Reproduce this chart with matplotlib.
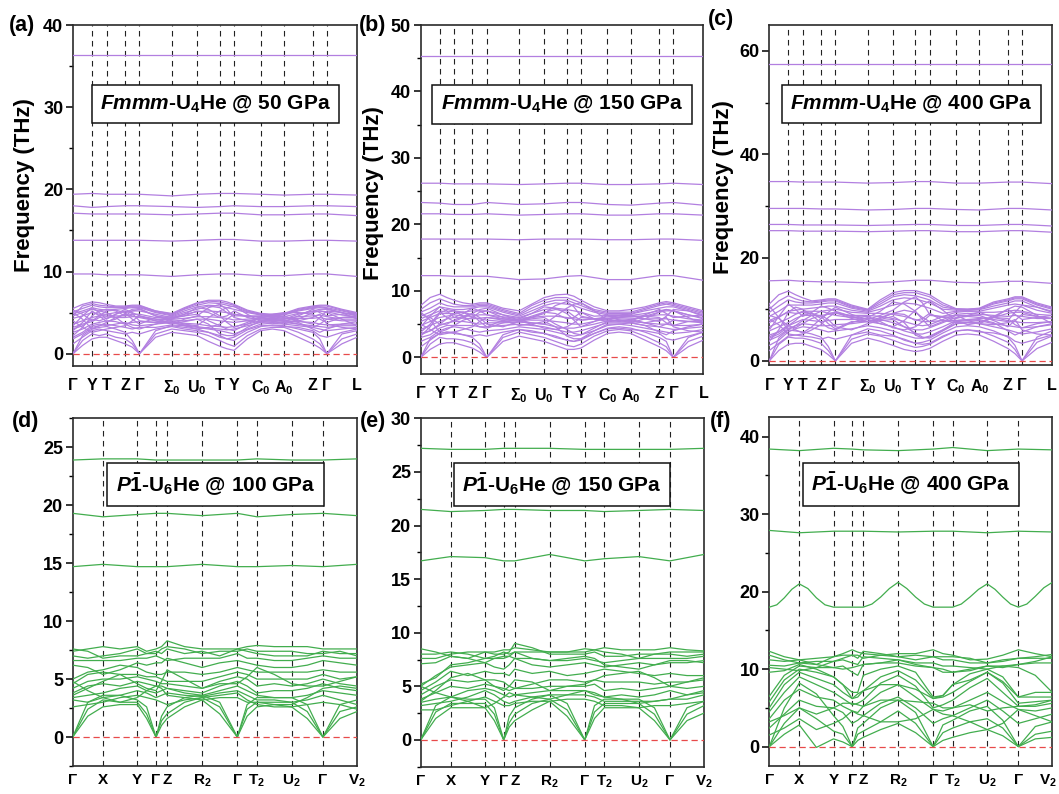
import numpy as np
import matplotlib
matplotlib.use('Agg')
import matplotlib.pyplot as plt
import matplotlib.transforms as mtransforms
from matplotlib.ticker import MultipleLocator

plt.rcParams['font.family'] = ['Liberation Sans', 'DejaVu Sans']
plt.rcParams['font.weight'] = 'bold'
plt.rcParams['mathtext.fontset'] = 'custom'
plt.rcParams['mathtext.rm'] = 'Liberation Sans:bold'
plt.rcParams['mathtext.it'] = 'Liberation Sans:italic:bold'
plt.rcParams['mathtext.bf'] = 'Liberation Sans:bold'

# high-symmetry points (path fraction) and labels
kpath_top = [0, 0.067, 0.118, 0.183, 0.234, 0.348, 0.437, 0.517, 0.567, 0.661, 0.743, 0.844, 0.894, 1.0]
labels_top = ['Γ', 'Y', 'T', 'Z', 'Γ', 'Σ$_0$', 'U$_0$', 'T', 'Y', 'C$_0$', 'A$_0$', 'Z', 'Γ', 'L']
kpath_bot = [0, 0.106, 0.227, 0.293, 0.332, 0.455, 0.579, 0.648, 0.770, 0.880, 1.0]
labels_bot = ['Γ', 'X', 'Y', 'Γ', 'Z', 'R$_2$', 'Γ', 'T$_2$', 'U$_2$', 'Γ', 'V$_2$']

# low bands: values at high-symmetry points and segment midpoints (THz)
a_low = [
    "0 1.0 1.8 2.0 2.0 1.6 1.2 0.8 0 2.0 2.6 2.4 2.2 1.5 0.9 0.6 0.4 1.8 2.8 3.0 2.8 2.0 1.2 0.7 0 1.2 2.0",
    "0 1.6 2.4 2.2 2.4 2.0 1.8 1.2 0 2.4 3.0 2.8 2.6 2.2 1.6 1.2 0.9 2.2 3.0 3.2 3.2 2.6 1.8 1.2 0 1.8 2.4",
    "0 2.2 3.0 3.2 3.3 3.0 2.6 1.6 0 2.8 3.4 3.2 3.0 2.6 2.2 1.8 1.6 2.6 3.3 3.5 3.4 3.0 2.6 1.8 0 2.4 2.8",
    "1.8 2.4 3.2 3.4 3.6 3.4 3.2 3.0 3.2 3.2 3.5 3.4 3.2 3.0 2.8 2.6 2.4 3.0 3.6 3.7 3.6 3.4 3.2 3.0 2.8 3.0 3.2",
    "2.0 2.6 3.4 3.6 3.4 3.6 3.8 3.5 3.4 3.6 3.8 3.5 3.3 3.1 3.0 2.9 3.0 3.4 3.8 3.9 3.8 3.6 3.4 3.3 3.2 3.4 3.4",
    "2.6 3.0 3.6 3.8 4.0 3.9 3.6 3.8 3.9 3.8 3.9 3.7 3.6 3.4 3.3 3.2 3.3 3.6 4.0 4.1 4.0 3.9 3.8 3.6 3.5 3.6 3.6",
    "5.0 4.2 3.0 3.4 3.8 4.4 4.8 4.6 4.4 4.0 3.8 3.4 3.0 3.2 3.6 4.2 4.8 4.6 4.4 4.2 4.0 3.6 3.2 3.6 4.2 4.4 4.6",
    "3.2 3.6 3.9 4.4 4.5 4.4 4.4 4.5 4.5 4.2 4.1 4.0 4.2 4.2 4.0 3.9 3.8 4.0 4.2 4.3 4.2 4.3 4.3 4.4 4.2 4.0 4.0",
    "3.6 4.0 4.4 4.6 4.7 4.6 4.6 4.8 4.8 4.4 4.2 4.3 4.5 4.5 4.4 4.3 4.1 4.2 4.3 4.4 4.3 4.5 4.6 4.7 4.5 4.2 4.2",
    "2.2 3.2 4.6 5.2 5.0 4.4 3.6 3.2 3.0 3.6 4.2 4.8 5.6 5.4 4.6 3.8 3.2 3.8 4.5 4.0 3.6 4.2 5.0 5.2 5.0 4.2 3.4",
    "4.3 4.6 5.0 4.8 4.8 5.0 5.1 5.2 5.2 4.8 4.4 4.8 5.1 5.2 5.1 5.0 4.8 4.5 4.5 4.5 4.5 4.9 5.1 5.2 5.1 4.7 4.5",
    "3.4 4.6 5.6 5.0 4.2 4.8 5.4 5.0 4.6 4.0 3.6 4.2 4.6 5.6 6.0 5.4 4.4 4.0 3.8 4.2 4.6 4.0 3.6 4.4 5.2 5.0 4.2",
    "4.9 5.2 5.6 5.4 5.3 5.4 5.5 5.6 5.6 5.0 4.6 5.2 5.7 5.9 5.8 5.6 5.4 5.0 4.7 4.6 4.7 5.2 5.5 5.6 5.5 5.0 4.7",
    "5.1 5.5 5.9 5.7 5.6 5.6 5.6 5.7 5.7 5.1 4.7 5.4 5.9 6.2 6.1 5.9 5.7 5.1 4.8 4.7 4.8 5.3 5.6 5.7 5.6 5.2 4.8",
    "4.6 5.8 6.1 5.9 5.8 5.7 5.7 5.8 5.8 5.2 4.8 5.5 6.1 6.4 6.3 6.1 5.9 5.2 4.8 4.7 4.8 5.4 5.7 5.8 5.8 5.3 4.9",
    "5.5 6.0 6.3 6.2 6.0 5.8 5.8 5.9 5.9 5.2 4.9 5.6 6.2 6.5 6.5 6.3 6.0 5.3 4.9 4.8 4.9 5.5 5.8 5.9 5.9 5.4 5.0",
    "2.8 3.8 5.2 4.6 3.9 4.2 4.9 5.4 5.5 4.6 4.0 3.6 3.4 4.4 5.2 5.6 5.8 4.8 3.9 3.8 3.9 4.6 5.4 5.0 4.6 4.8 5.0",
    "4.0 3.2 2.6 2.8 3.0 3.2 3.4 4.0 4.6 4.2 3.7 3.9 4.2 3.6 2.4 2.2 2.2 3.2 4.0 4.0 4.1 3.8 3.0 2.6 3.0 3.6 3.9",
    "3.0 3.4 4.2 4.0 4.3 4.8 5.2 4.9 4.0 3.8 4.4 4.6 4.8 4.0 3.4 3.0 2.8 3.6 4.4 4.6 4.4 4.0 4.4 4.8 3.6 3.2 3.0",
    "5.3 4.8 4.0 4.6 5.2 5.3 5.0 4.2 3.6 4.4 4.5 5.0 5.4 5.8 5.6 5.0 4.6 4.6 4.6 4.8 5.0 5.0 4.8 4.2 3.8 4.4 4.4",
    "1.2 2.0 2.8 3.0 2.8 2.6 2.4 2.6 2.4 3.0 3.3 3.0 2.8 2.6 2.0 1.8 2.0 2.9 3.4 3.4 3.3 3.2 2.8 2.2 2.0 2.6 3.0",
    "4.6 5.0 5.4 5.2 5.4 5.2 4.6 5.2 5.4 4.6 4.3 4.6 5.2 5.0 4.4 4.6 5.2 4.4 4.1 4.2 4.2 4.8 5.2 5.4 5.4 5.0 4.6",
]
b_low = [
    "0 1.2 2.0 2.2 2.2 1.8 1.4 0.8 0 2.4 3.2 2.8 2.4 1.8 1.2 1.2 1.4 2.6 3.6 3.8 3.6 2.6 1.6 1.0 0 1.6 2.6",
    "0 2.0 3.0 2.8 2.8 2.6 2.2 1.4 0 3.0 3.8 3.4 3.0 2.4 1.8 1.6 2.0 3.2 4.0 4.2 4.0 3.2 2.2 1.6 0 2.4 3.2",
    "0 2.8 3.6 3.8 3.8 3.4 3.0 2.0 0 3.4 4.2 4.0 3.6 3.0 2.6 2.4 2.8 3.6 4.4 4.6 4.4 3.8 3.0 2.4 0 3.0 3.8",
    "2.4 3.0 4.0 4.4 4.6 4.4 4.0 3.8 4.0 4.2 4.6 4.4 4.2 3.8 3.4 3.2 3.4 4.0 4.8 5.0 4.8 4.4 4.0 3.8 3.6 3.8 4.2",
    "3.0 3.4 4.4 4.8 4.8 4.8 4.8 4.6 4.6 4.8 5.0 4.8 4.6 4.2 3.8 3.8 4.0 4.6 5.2 5.2 5.2 4.8 4.6 4.4 4.2 4.4 4.6",
    "3.6 4.0 4.8 5.2 5.4 5.4 5.2 5.0 5.2 5.2 5.3 5.2 5.0 4.6 4.4 4.4 4.6 5.0 5.5 5.6 5.5 5.2 5.0 5.0 4.8 4.8 5.0",
    "6.8 5.6 3.8 4.2 4.8 5.6 6.0 5.8 5.6 5.4 5.5 5.0 4.4 4.2 4.6 5.2 6.0 5.8 5.8 5.8 5.7 5.2 4.6 5.0 5.6 5.4 5.2",
    "4.2 4.8 5.4 5.8 6.0 5.9 5.8 5.9 6.0 5.8 5.7 5.6 5.6 5.4 5.2 5.0 5.0 5.4 5.9 6.0 5.9 5.8 5.8 5.8 5.6 5.4 5.4",
    "4.8 5.4 6.0 6.2 6.4 6.2 6.2 6.4 6.4 6.1 5.9 6.0 6.2 6.2 6.0 5.8 5.6 5.8 6.1 6.2 6.1 6.2 6.4 6.4 6.2 5.8 5.6",
    "3.2 4.6 6.6 7.2 7.0 6.2 5.2 4.6 4.4 5.2 5.8 6.6 7.6 7.4 6.6 5.6 4.6 5.4 6.3 5.6 5.2 5.8 6.8 7.2 7.0 6.0 5.0",
    "5.4 6.0 6.6 6.6 6.6 6.8 7.0 7.0 7.0 6.4 6.0 6.6 7.2 7.4 7.2 7.0 6.8 6.2 6.3 6.3 6.3 6.6 7.0 7.2 7.0 6.4 5.8",
    "4.6 6.2 7.6 7.0 6.0 6.6 7.4 7.0 6.4 5.8 5.4 6.0 6.6 7.8 8.4 7.6 6.2 5.8 5.6 6.0 6.4 5.8 5.4 6.2 7.2 7.0 6.2",
    "6.2 6.8 7.6 7.4 7.2 7.2 7.4 7.6 7.6 6.8 6.2 7.0 7.8 8.2 8.0 7.8 7.4 6.8 6.4 6.4 6.5 7.0 7.4 7.6 7.6 7.0 6.4",
    "6.8 7.4 8.2 7.8 7.6 7.6 7.6 7.8 7.8 7.0 6.4 7.4 8.2 8.6 8.6 8.2 7.8 7.0 6.6 6.6 6.6 7.2 7.8 8.0 7.8 7.2 6.6",
    "7.2 8.2 8.8 8.4 8.0 7.8 7.8 8.0 8.0 7.2 6.6 7.8 8.6 9.0 9.0 8.6 8.2 7.2 6.8 6.8 6.8 7.4 8.0 8.2 8.0 7.4 6.8",
    "7.8 9.0 9.5 9.0 8.6 8.2 8.0 8.2 8.2 7.4 7.0 8.0 9.0 9.4 9.5 9.2 8.6 7.6 7.0 7.0 7.2 7.6 8.2 8.4 8.2 7.6 7.0",
    "3.8 5.0 6.8 6.0 5.4 6.0 6.6 7.2 7.4 6.4 5.6 5.2 5.0 6.2 7.4 8.0 8.2 7.0 5.6 5.4 5.6 6.4 7.2 6.6 6.0 6.2 6.4",
    "5.0 4.2 3.4 3.6 3.8 4.2 4.6 5.4 6.0 5.6 4.8 5.0 5.4 4.6 3.2 2.8 2.8 4.0 5.0 5.0 5.2 4.8 3.8 3.4 4.0 4.6 5.0",
    "3.4 4.0 5.0 5.0 5.6 6.2 6.6 6.0 5.0 4.6 5.4 5.8 6.0 5.0 4.2 3.6 3.4 4.4 5.4 5.6 5.4 5.2 5.6 6.0 4.6 4.0 3.8",
    "6.4 6.0 5.0 5.8 6.6 6.8 6.4 5.4 4.6 5.6 5.6 6.2 6.8 7.2 7.0 6.2 5.6 5.8 5.8 6.0 6.2 6.2 6.0 5.2 4.8 5.4 5.6",
    "1.6 2.6 3.6 3.8 3.6 3.4 3.2 3.4 3.2 3.8 4.2 3.8 3.6 3.2 2.6 2.4 2.6 3.6 4.3 4.4 4.2 4.0 3.6 2.8 2.6 3.2 3.8",
    "5.8 6.4 7.0 6.8 7.0 6.8 6.0 6.8 7.0 6.0 5.6 6.0 6.8 6.6 5.8 6.0 6.8 5.8 5.4 5.5 5.5 6.2 6.8 7.0 7.0 6.4 6.0",
]
c_low = [
    "0 2.0 3.2 3.4 3.4 2.8 2.2 1.2 0 3.4 4.4 3.8 3.0 2.2 1.8 2.0 2.4 3.8 5.0 5.2 5.0 3.8 2.4 1.4 0 2.4 3.6",
    "0 3.2 4.6 4.4 4.4 4.0 3.4 2.0 0 4.2 5.2 4.8 4.0 3.2 2.6 2.8 3.2 4.6 5.8 6.0 5.8 4.8 3.6 2.2 0 3.6 4.8",
    "0 4.4 6.0 5.8 5.6 5.2 4.6 2.8 0 5.0 6.2 5.8 5.0 4.0 3.4 3.6 4.0 5.4 6.6 6.8 6.6 5.8 4.6 3.0 0 4.6 5.8",
    "3.0 4.0 5.6 6.2 6.6 6.4 6.0 5.6 5.8 6.2 6.8 6.4 5.8 5.0 4.4 4.4 4.8 6.0 7.2 7.4 7.2 6.6 6.0 5.6 5.2 5.6 6.2",
    "4.0 4.8 6.2 6.8 7.2 7.0 6.8 6.8 7.0 7.2 7.6 7.2 6.6 5.8 5.2 5.2 5.6 6.6 7.8 8.0 7.8 7.2 6.8 6.6 6.4 6.6 7.0",
    "5.0 5.6 6.8 7.4 8.0 7.8 7.6 7.8 8.0 8.0 8.2 8.0 7.4 6.6 6.0 6.0 6.4 7.4 8.4 8.6 8.4 8.0 7.6 7.6 7.4 7.4 7.6",
    "10.6 8.4 6.0 6.8 7.8 8.8 9.6 9.2 8.8 8.4 8.6 7.6 6.4 6.0 6.6 7.6 8.8 8.6 8.8 8.8 8.8 7.8 6.6 7.8 9.0 8.6 8.2",
    "5.8 6.6 7.4 8.2 8.8 8.8 8.8 9.0 9.2 8.8 8.8 8.6 8.2 7.6 7.0 6.8 7.0 8.0 9.0 9.2 9.0 8.8 8.6 8.8 8.6 8.2 8.2",
    "6.6 7.4 8.2 9.0 9.6 9.6 9.6 9.8 10.0 9.4 9.2 9.2 9.0 8.6 8.0 7.6 7.6 8.6 9.4 9.6 9.4 9.4 9.6 9.8 9.6 9.0 8.8",
    "3.8 6.0 9.4 10.4 10.0 8.8 7.4 6.4 6.0 7.4 8.4 9.6 11.4 11.0 9.6 8.0 6.6 7.6 8.8 7.8 7.2 8.4 10.0 10.6 10.4 8.8 7.2",
    "7.4 8.4 9.6 9.8 10.0 10.2 10.4 10.6 10.6 9.8 9.4 10.0 10.8 11.2 11.0 10.6 10.2 9.2 9.6 9.7 9.6 10.2 10.8 11.0 10.8 9.8 9.2",
    "6.0 8.6 11.0 10.0 8.6 9.4 10.6 10.2 9.6 8.6 8.0 8.8 9.8 11.4 12.4 11.2 9.0 8.4 8.2 8.8 9.4 8.4 7.8 9.4 10.8 10.4 9.4",
    "8.6 9.6 10.8 10.8 10.8 10.8 11.0 11.2 11.2 10.2 9.6 10.6 11.8 12.2 12.0 11.6 11.2 10.0 9.8 9.8 9.9 10.6 11.2 11.6 11.6 10.4 9.6",
    "9.4 10.6 11.8 11.4 11.2 11.2 11.4 11.6 11.6 10.4 9.8 11.0 12.4 12.8 12.6 12.2 11.8 10.4 10.0 9.9 10.0 11.0 11.6 12.0 12.0 10.8 10.0",
    "10.0 11.6 12.6 12.0 11.6 11.4 11.6 11.8 11.8 10.6 9.9 11.4 12.8 13.2 13.2 12.8 12.4 10.8 10.0 10.0 10.1 11.2 11.8 12.2 12.2 11.0 10.2",
    "11.0 12.8 13.5 12.8 12.2 11.6 11.8 12.0 12.0 10.8 10.0 11.8 13.2 13.6 13.6 13.2 12.8 11.2 10.1 10.0 10.2 11.4 12.0 12.4 12.4 11.2 10.4",
    "4.6 5.6 7.0 6.0 5.4 6.6 8.2 9.4 10.4 9.0 8.0 7.2 6.6 7.8 9.8 10.8 11.6 9.8 7.8 7.0 7.4 8.6 10.0 9.0 8.0 8.4 8.8",
    "8.0 7.0 5.2 5.0 5.2 6.0 7.0 8.4 9.4 8.6 7.6 8.0 8.6 7.4 5.0 4.4 4.6 6.0 7.6 7.8 8.0 7.4 5.8 5.0 5.6 6.6 7.2",
    "4.4 5.2 6.6 6.4 7.2 8.2 8.8 8.0 6.6 6.0 7.2 7.8 8.0 6.6 5.4 4.6 4.4 5.8 7.2 7.4 7.2 7.0 7.4 8.0 6.0 5.2 5.0",
    "8.8 8.2 6.8 7.8 9.0 9.2 8.6 7.2 6.2 7.6 7.6 8.4 9.2 9.8 9.4 8.4 7.6 7.8 7.8 8.0 8.2 8.4 8.2 7.0 6.4 7.2 7.6",
    "2.0 3.4 4.8 5.0 4.8 4.6 4.2 4.6 4.2 5.0 5.6 5.0 4.8 4.2 3.4 3.2 3.4 4.8 5.8 6.0 5.6 5.4 4.8 3.8 3.4 4.2 5.0",
    "7.8 8.6 9.4 9.2 9.4 9.2 8.2 9.2 9.4 8.2 7.6 8.2 9.2 9.0 7.8 8.2 9.2 7.8 7.4 7.5 7.5 8.4 9.2 9.4 9.4 8.6 8.2",
]
d_low = [
    "0 1.8 2.6 2.8 2.8 1.6 0 1.0 1.6 2.6 3.2 2.0 0 1.8 2.6 2.8 2.6 1.6 0 1.6 2.2",
    "0 2.4 3.2 3.0 3.0 2.0 0 1.4 2.0 3.0 3.4 2.6 0 2.4 3.0 3.0 3.0 2.2 0 2.2 2.6",
    "0 3.0 3.6 3.6 3.2 2.6 0 1.8 2.6 3.4 3.6 3.0 0 2.8 3.4 3.4 3.4 2.8 0 2.8 3.2",
    "2.6 2.8 3.0 3.4 3.6 3.4 3.2 3.0 2.8 3.2 3.4 3.6 3.8 3.2 2.8 2.6 2.6 2.8 3.0 2.8 2.4",
    "3.2 3.0 3.4 3.6 4.0 3.8 3.4 3.6 3.8 3.6 3.5 3.8 4.0 3.6 3.2 3.2 3.0 3.2 3.6 3.2 2.8",
    "3.4 3.6 3.8 4.2 4.4 4.0 3.8 4.0 4.2 3.8 3.6 4.0 4.4 4.0 3.6 3.4 3.4 3.6 4.0 3.8 3.6",
    "3.8 4.4 4.6 4.4 4.8 4.6 4.4 4.4 4.2 4.0 3.8 4.4 4.8 4.4 3.8 4.0 4.0 4.2 4.6 4.2 4.0",
    "4.2 4.8 5.0 5.0 5.2 5.0 4.8 4.6 4.6 4.4 4.2 4.8 5.2 5.0 4.4 4.6 4.4 4.6 5.0 4.6 4.4",
    "4.6 5.4 5.6 5.4 5.4 5.2 5.2 5.0 4.8 4.8 4.8 5.2 5.6 5.4 5.0 5.0 5.0 5.0 5.4 5.0 5.2",
    "5.0 5.6 5.8 6.2 6.0 5.6 5.4 5.4 5.6 5.6 5.4 5.6 6.0 5.8 5.6 5.6 5.6 5.6 5.8 5.6 5.6",
    "6.2 6.0 5.4 5.8 6.4 6.2 6.4 6.4 6.8 6.4 6.0 6.4 6.6 6.4 6.2 6.0 6.0 6.2 6.6 6.4 6.2",
    "6.6 6.6 6.6 6.6 6.8 6.8 7.0 6.8 6.6 6.8 6.8 6.8 7.2 6.8 6.8 6.6 6.6 6.8 7.0 6.8 6.8",
    "7.0 6.8 7.0 7.2 7.6 7.2 7.4 7.2 7.6 7.2 7.4 7.0 7.6 7.4 7.2 7.0 7.0 7.0 7.4 7.2 7.2",
    "7.4 7.6 7.8 7.6 7.8 7.4 7.6 7.8 8.3 7.8 7.6 7.6 7.6 7.8 7.9 7.8 7.8 7.8 7.6 7.6 7.6",
    "7.6 7.4 6.8 7.0 7.0 7.2 7.2 7.6 7.8 7.6 7.2 7.4 7.4 7.6 7.4 7.4 7.4 7.2 7.2 7.4 7.0",
    "4.8 4.0 3.4 3.0 3.4 4.0 4.4 4.2 3.6 3.4 3.2 3.4 3.4 3.0 3.0 2.8 2.8 3.4 4.2 4.4 4.2",
    "3.6 4.2 4.8 5.4 4.6 4.2 4.0 4.8 5.8 5.0 4.2 4.6 4.6 5.2 6.0 5.4 4.6 4.4 4.4 4.8 5.2",
]
e_low = [
    "0 2.0 3.0 3.0 3.0 1.8 0 1.2 1.8 2.8 3.6 2.2 0 2.0 3.0 3.0 3.0 1.8 0 1.8 2.5",
    "0 2.6 3.4 3.4 3.4 2.4 0 1.6 2.4 3.4 3.8 2.8 0 2.6 3.4 3.4 3.4 2.4 0 2.4 3.2",
    "0 3.2 4.0 3.8 3.8 3.0 0 2.2 3.0 3.8 4.2 3.4 0 3.2 3.8 3.8 3.8 3.0 0 3.0 3.6",
    "2.8 2.8 3.2 3.6 4.0 3.6 3.2 3.2 3.4 3.6 3.6 3.8 3.8 3.6 3.2 3.2 3.0 3.2 3.2 3.4 3.6",
    "3.2 3.4 3.6 4.0 4.6 4.2 3.6 3.4 3.6 4.0 4.2 4.2 4.2 4.0 3.6 3.6 3.6 3.6 3.8 3.8 4.2",
    "3.5 3.8 4.0 4.6 4.8 4.6 4.2 4.0 4.2 4.4 4.6 4.6 4.6 4.4 4.0 4.2 4.0 4.2 4.6 4.2 4.6",
    "3.8 4.4 5.0 4.8 5.2 5.0 4.8 4.6 4.8 4.8 5.0 5.0 5.0 5.2 4.6 4.8 4.6 4.8 5.0 4.8 5.0",
    "4.2 5.0 5.6 5.4 5.6 5.6 5.4 5.0 4.8 5.2 5.6 5.6 5.4 5.6 5.4 5.4 5.4 5.2 5.4 5.4 5.6",
    "4.6 5.4 6.4 6.0 6.4 6.2 6.2 6.0 6.6 6.2 6.4 6.0 6.2 6.4 6.6 6.4 6.2 6.0 6.2 6.0 6.0",
    "5.0 6.0 6.8 7.0 7.2 6.8 6.6 7.0 7.6 7.0 6.8 7.0 7.2 7.0 6.8 7.0 7.2 7.0 7.2 7.2 7.4",
    "5.2 5.8 7.0 7.2 7.6 7.6 7.6 7.8 8.2 7.6 7.4 7.4 7.6 7.4 7.2 7.4 7.6 7.6 7.6 7.6 7.8",
    "7.1 7.2 7.8 7.6 8.2 8.0 8.0 8.2 9.0 8.6 8.0 8.0 8.0 8.2 7.8 7.8 8.0 8.0 8.0 7.8 8.0",
    "7.6 7.6 8.0 8.2 8.2 8.2 8.4 8.4 8.6 8.4 8.2 8.2 8.5 8.4 8.6 8.4 8.4 8.4 8.6 8.4 8.3",
    "8.0 8.0 8.2 8.0 7.6 7.8 8.2 8.0 8.2 8.2 8.2 8.2 8.2 8.4 8.2 8.0 7.6 8.0 8.2 8.2 8.2",
    "8.5 8.2 7.8 7.6 7.2 7.6 7.8 7.8 7.6 7.6 7.4 7.6 7.8 7.6 7.0 6.8 6.6 7.0 7.4 7.4 7.2",
    "5.0 4.4 4.0 3.6 3.0 3.4 4.0 4.4 4.2 4.0 3.8 4.2 4.6 4.2 4.0 3.8 3.4 3.6 3.8 4.2 4.4",
    "3.6 4.6 5.8 6.2 5.6 5.0 4.6 5.0 5.6 5.4 4.6 5.0 5.2 5.6 6.0 6.2 6.4 5.8 5.0 5.4 5.8",
]
f_low = [
    "0 1.6 2.8 -0.1 1.0 0.6 0 0.8 1.2 2.2 3.0 1.8 0 0.8 1.2 1.8 2.2 1.4 0 1.0 1.2",
    "0 3.0 5.0 3.6 2.0 1.6 0 1.6 2.0 3.2 4.6 3.0 0 1.8 2.4 3.2 3.6 2.4 0 1.6 2.0",
    "0 5.0 8.2 6.8 4.0 2.6 0 2.4 3.0 5.0 6.0 4.4 0 2.8 3.4 4.6 5.2 3.4 0 2.6 3.2",
    "2.4 4.2 6.0 5.2 5.0 4.4 3.0 3.4 4.0 5.6 6.4 5.0 3.0 3.6 4.0 5.0 6.0 4.6 3.0 3.6 4.2",
    "3.6 6.0 7.4 6.4 6.0 5.2 4.6 4.4 5.2 7.0 8.0 6.4 4.8 4.6 5.0 6.0 7.0 5.8 4.8 4.6 5.0",
    "4.5 7.0 9.0 8.0 7.0 6.2 5.4 5.6 6.0 8.2 9.2 7.8 5.0 5.4 6.0 7.6 8.8 7.0 5.2 5.2 5.6",
    "5.0 8.0 9.6 8.8 8.0 7.0 6.2 6.4 7.2 9.0 9.8 8.6 6.2 6.4 7.0 8.4 9.6 8.2 5.6 5.8 6.0",
    "5.8 8.6 10.0 9.6 9.0 8.0 7.0 7.0 9.2 10.0 10.4 9.6 6.4 6.6 8.0 9.4 10.0 9.0 6.4 6.4 6.4",
    "6.5 9.2 10.4 10.2 10.2 10.4 9.6 9.2 10.6 10.8 10.8 10.4 10.2 9.6 9.6 10.0 10.4 10.4 10.2 9.2 7.0",
    "10.2 10.0 9.8 10.2 11.0 11.2 10.8 10.6 11.6 11.4 11.2 10.8 10.8 10.4 10.4 10.2 10.0 10.4 10.6 10.8 10.8",
    "10.5 10.4 10.8 10.6 11.6 11.8 11.8 11.4 12.3 12.0 11.6 11.2 11.6 11.2 11.2 10.8 10.8 11.0 11.4 11.4 11.4",
    "11.2 11.0 11.2 11.4 11.6 12.0 12.5 12.2 12.0 11.8 12.0 12.0 12.5 12.0 11.8 11.2 11.3 11.8 12.5 12.0 11.6",
    "11.8 11.2 10.8 11.0 11.0 11.4 11.8 11.8 11.4 11.8 11.6 11.8 11.6 11.6 11.6 11.4 10.8 11.2 11.4 11.6 11.9",
    "12.3 11.6 11.2 10.6 10.2 10.0 10.2 10.4 10.6 10.8 11.2 10.6 10.2 10.0 9.6 9.8 10.4 10.2 10.6 11.0 11.6",
    "9.6 9.8 10.6 10.0 9.0 8.0 6.2 6.8 7.2 8.0 8.0 7.4 6.2 6.6 8.0 8.6 9.6 8.4 6.4 7.0 7.0",
    "1.5 2.4 3.6 2.2 3.0 3.6 4.6 4.2 4.0 3.2 3.2 3.6 4.8 4.2 4.0 3.2 2.2 3.0 4.8 4.0 3.2",
    "3.2 4.0 5.0 4.2 5.0 5.6 5.6 5.4 5.2 6.0 6.0 5.8 5.6 5.0 5.0 5.4 4.6 5.0 5.2 5.4 6.0",
]

# high (He-like) bands: values at the high-symmetry points only
a_high = [
    "36.3 36.3 36.3 36.3 36.3 36.3 36.3 36.3 36.3 36.3 36.3 36.3 36.3 36.3",
    "19.4 19.5 19.4 19.4 19.4 19.2 19.4 19.5 19.5 19.4 19.3 19.4 19.4 19.3",
    "18.0 17.8 17.9 18.0 18.0 17.9 17.8 17.9 18.0 17.9 17.9 18.0 18.0 17.9",
    "17.1 17.0 17.0 17.0 17.0 16.9 17.0 17.1 17.1 16.9 16.9 17.0 17.0 16.8",
    "13.8 13.8 13.8 13.8 13.8 13.7 13.8 13.9 13.9 13.7 13.7 13.8 13.8 13.7",
    "9.7 9.7 9.6 9.6 9.6 9.4 9.6 9.7 9.7 9.5 9.5 9.7 9.7 9.4",
]
b_high = [
    "45.4 45.4 45.4 45.4 45.4 45.4 45.4 45.4 45.4 45.4 45.4 45.4 45.4 45.4",
    "26.2 26.2 26.1 26.1 26.1 26.0 26.1 26.2 26.2 26.0 26.0 26.1 26.2 26.0",
    "23.3 23.2 23.0 23.0 23.3 23.0 23.1 23.3 23.3 23.0 22.9 23.2 23.3 22.9",
    "21.6 21.6 21.5 21.5 21.6 21.4 21.5 21.6 21.6 21.4 21.4 21.6 21.6 21.4",
    "17.8 17.8 17.8 17.8 17.8 17.7 17.8 17.8 17.8 17.7 17.7 17.8 17.8 17.6",
    "12.3 12.3 12.2 12.2 12.2 11.7 11.8 12.2 12.3 11.7 11.7 12.3 12.3 11.6",
]
c_high = [
    "57.4 57.4 57.4 57.4 57.4 57.4 57.4 57.4 57.4 57.4 57.4 57.4 57.4 57.4",
    "34.7 34.7 34.6 34.6 34.6 34.4 34.5 34.7 34.7 34.4 34.4 34.6 34.6 34.3",
    "29.5 29.5 29.5 29.4 29.4 29.2 29.3 29.5 29.5 29.3 29.2 29.5 29.5 29.2",
    "26.4 26.4 26.3 26.3 26.3 26.2 26.3 26.4 26.4 26.2 26.2 26.4 26.4 26.1",
    "25.2 25.2 25.1 25.1 25.1 25.0 25.1 25.2 25.2 25.0 25.0 25.2 25.2 24.9",
    "15.5 15.6 15.4 15.3 15.3 15.1 15.3 15.6 15.6 15.2 15.1 15.4 15.4 15.0",
]
d_high = [
    "23.9 24.0 24.0 23.9 23.9 23.9 23.9 24.0 23.9 23.9 24.0",
    "19.3 19.0 19.2 19.3 19.3 19.1 19.3 19.0 19.2 19.3 19.1",
    "14.7 14.9 14.7 14.7 14.7 14.9 14.7 14.7 14.8 14.7 14.9",
]
e_high = [
    "27.2 27.1 27.1 27.2 27.2 27.2 27.1 27.1 27.1 27.1 27.2",
    "21.5 21.3 21.4 21.5 21.5 21.4 21.4 21.3 21.4 21.5 21.4",
    "16.7 17.1 17.0 16.7 16.7 17.3 16.7 16.9 17.1 16.7 17.3",
]
f_high = [
    "38.4 38.2 38.5 38.4 38.3 38.2 38.4 38.6 38.2 38.4 38.3",
    "27.9 27.6 27.8 27.8 27.8 27.7 27.8 27.8 27.6 27.8 27.7",
]
# the strongly dispersive ~18-21 THz band of (f), read at quarter points of each segment
f_hump = ("18.0 18.3 19.2 20.3  21.0 20.4 19.2 18.3  18.0 18.0 18.0 18.0  18.0 18.0 18.0 18.0  "
          "18.0 18.4 19.3 20.4  21.2 20.4 19.3 18.4  18.0 18.0 18.0 18.0  18.0 18.4 19.3 20.3  "
          "21.0 20.3 19.3 18.4  18.0 18.4 19.4 20.5  21.2")

titles = [r'$Fmmm$-U$_4$He @ 50 GPa', r'$Fmmm$-U$_4$He @ 150 GPa', r'$Fmmm$-U$_4$He @ 400 GPa',
          r'$P\bar{\mathit{1}}$-U$_6$He @ 100 GPa', r'$P\bar{\mathit{1}}$-U$_6$He @ 150 GPa',
          r'$P\bar{\mathit{1}}$-U$_6$He @ 400 GPa']
letters = ['(a)', '(b)', '(c)', '(d)', '(e)', '(f)']

purple = '#b27fe0'
green = '#42ad4e'


def vals(s):
    return np.array(s.split(), dtype=float)


def half_grid(k):
    k = np.asarray(k)
    mids = (k[:-1] + k[1:]) / 2
    return np.sort(np.concatenate([k, mids]))


def quarter_grid(k):
    pts = []
    for i in range(len(k) - 1):
        pts.extend(np.linspace(k[i], k[i + 1], 5)[:-1])
    pts.append(k[-1])
    return np.array(pts)


W, H = 1059, 794
fig = plt.figure(figsize=(W / 100, H / 100), dpi=100)

# axes boxes in pixels: left, top, right, bottom
boxes = [(73, 25, 357, 366), (420.7, 25, 703.3, 374), (769.3, 25, 1052, 365),
         (72.7, 418.3, 357, 766), (420.7, 418.3, 704, 766.7), (769.3, 417.3, 1052.3, 766)]
panels = [
    dict(k=kpath_top, lab=labels_top, low=a_low, high=a_high, col=purple, ylim=(-1.5, 40), maj=10, mnr=5, tb=(0.501, 0.768)),
    dict(k=kpath_top, lab=labels_top, low=b_low, high=b_high, col=purple, ylim=(-2.5, 50), maj=10, mnr=5, tb=(0.50, 0.772)),
    dict(k=kpath_top, lab=labels_top, low=c_low, high=c_high, col=purple, ylim=(-0.8, 65), maj=20, mnr=10, tb=(0.502, 0.768)),
    dict(k=kpath_bot, lab=labels_bot, low=d_low, high=d_high, col=green, ylim=(-2.5, 27.5), maj=5, mnr=2.5, tb=(0.502, 0.81)),
    dict(k=kpath_bot, lab=labels_bot, low=e_low, high=e_high, col=green, ylim=(-2.5, 30), maj=5, mnr=2.5, tb=(0.499, 0.81)),
    dict(k=kpath_bot, lab=labels_bot, low=f_low, high=f_high, col=green, ylim=(-2.5, 42.5), maj=10, mnr=5, tb=(0.50, 0.808)),
]

for i, (p, b) in enumerate(zip(panels, boxes)):
    l, t, r, bt = b
    ax = fig.add_axes([l / W, 1 - bt / H, (r - l) / W, (bt - t) / H])
    xg = half_grid(p['k'])
    for s in p['low']:
        ax.plot(xg, vals(s), color=p['col'], lw=0.9, zorder=3)
    for s in p['high']:
        ax.plot(p['k'], vals(s), color=p['col'], lw=0.9, zorder=3)
    if i == 5:
        ax.plot(quarter_grid(p['k']), vals(f_hump), color=p['col'], lw=0.9, zorder=3)
    for kk in p['k'][1:-1]:
        ax.axvline(kk, color='#222222', lw=0.8, ls=(0, (5, 4)), zorder=2)
    ax.axhline(0, color='#e84a4a', lw=0.9, ls=(0, (5, 3)), zorder=4)

    ax.set_xlim(0, 1)
    ax.set_ylim(*p['ylim'])
    ax.set_xticks(p['k'])
    ax.set_xticklabels(p['lab'], fontsize=11.5 if i < 3 else 11, fontweight='bold')
    ax.yaxis.set_major_locator(MultipleLocator(p['maj']))
    ax.yaxis.set_minor_locator(MultipleLocator(p['mnr']))
    ax.tick_params(axis='x', length=0, pad=9 if i < 3 else 5)
    ax.tick_params(axis='y', which='major', direction='out', length=5, width=1.1, labelsize=13, pad=2)
    ax.tick_params(axis='y', which='minor', direction='out', length=3, width=1.0)
    for lbl in ax.get_yticklabels():
        lbl.set_fontweight('bold')
    for sp in ax.spines.values():
        sp.set_linewidth(1.2)
        sp.set_color('#2a2a2a')
    if i == 5:
        # keep the last label (V2) inside the figure edge
        last = ax.get_xticklabels()[-1]
        last.set_transform(last.get_transform() + mtransforms.ScaledTranslation(-4 / 100, 0, fig.dpi_scale_trans))

    ax.text(p['tb'][0], p['tb'][1], titles[i], transform=ax.transAxes, ha='center', va='center',
            fontsize=15, fontweight='bold', zorder=10,
            bbox=dict(boxstyle='square,pad=0.4', fc='white', ec='#111111', lw=1.1))

# panel letters
letter_pos = [(22, 25), (373, 25), (721, 20), (26, 422), (373, 422), (721, 422)]
for txt, (x, y) in zip(letters, letter_pos):
    fig.text(x / W, 1 - y / H, txt, ha='center', va='center', fontsize=15.5, fontweight='bold')

# y-axis titles (top row only)
for x, y in [(25, 185), (374, 193), (723, 187)]:
    fig.text(x / W, 1 - y / H, 'Frequency (THz)', rotation=90, ha='center', va='center',
             fontsize=16, fontweight='bold')

fig.savefig('out.png', dpi=100)
